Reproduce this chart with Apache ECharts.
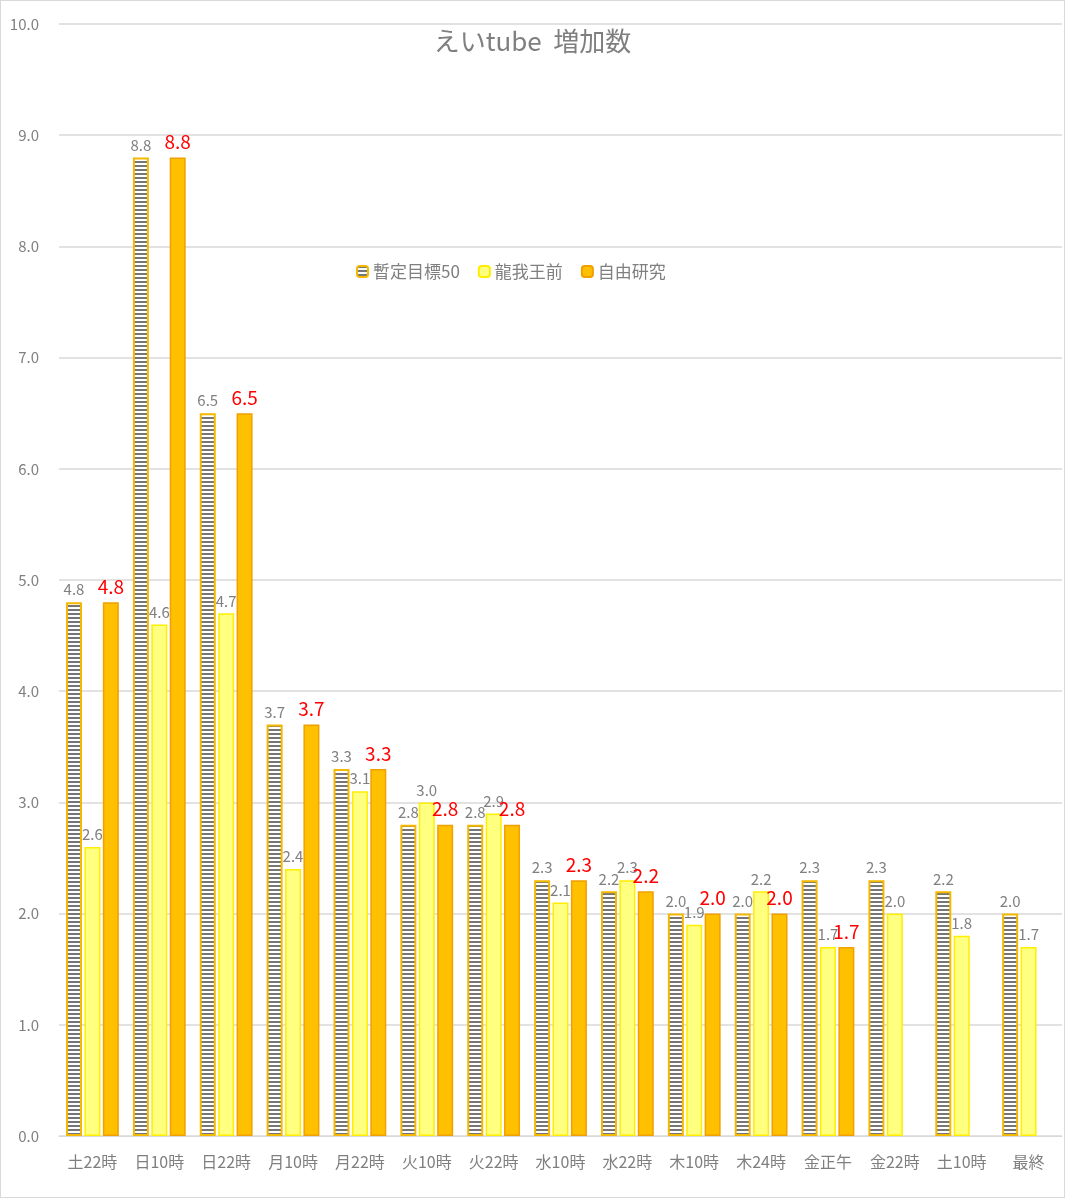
<!DOCTYPE html>
<html><head><meta charset="utf-8">
<script src="https://cdn.jsdelivr.net/npm/echarts@6/dist/echarts.min.js"></script>
<style>html,body{margin:0;padding:0;background:#fff}
#chartmain{width:1063px;height:1196px;border:1px solid #d9d9d9}</style>
</head><body><div id="chartmain"></div>
<script>
var categories = ['土22時','日10時','日22時','月10時','月22時','火10時','火22時','水10時','水22時','木10時','木24時','金正午','金22時','土10時','最終'];
var goal50 = [4.8, 8.8, 6.5, 3.7, 3.3, 2.8, 2.8, 2.3, 2.2, 2.0, 2.0, 2.3, 2.3, 2.2, 2.0];
var ryuga = [2.6, 4.6, 4.7, 2.4, 3.1, 3.0, 2.9, 2.1, 2.3, 1.9, 2.2, 1.7, 2.0, 1.8, 1.7];
var jiyu = [4.8, 8.8, 6.5, 3.7, 3.3, 2.8, 2.8, 2.3, 2.2, 2.0, 2.0, 1.7, null, null, null];

// 横縞パターン
var pat = document.createElement('canvas');
pat.width = 4; pat.height = 4;
var ctx = pat.getContext('2d');
ctx.fillStyle = '#fff'; ctx.fillRect(0, 0, 4, 4);
ctx.fillStyle = '#767676'; ctx.fillRect(0, 0, 4, 2);

var font = '"Noto Sans CJK JP", sans-serif';
var lbl = {show: true, position: 'top', color: '#808080', fontSize: 15, fontFamily: font,
    formatter: function(p){ return p.value.toFixed(1); }};

option = {
    title: {text: 'えいtube  増加数', left: 'center', top: 22,
        textStyle: {color: '#7f7f7f', fontSize: 26, fontWeight: 'normal', fontFamily: font}},
    legend: {data: ['暫定目標50','龍我王前','自由研究'], left: 350, top: 257, itemWidth: 11, itemHeight: 11,
        itemGap: 18, textStyle: {color: '#7f7f7f', fontSize: 17, fontFamily: font}},
    grid: {left: 58, right: 2, top: 23, bottom: 61},
    xAxis: {type: 'category', data: categories,
        axisLine: {lineStyle: {color: '#d9d9d9'}}, axisTick: {show: false},
        axisLabel: {color: '#7f7f7f', fontSize: 16, fontFamily: font, margin: 18}},
    yAxis: {type: 'value', min: 0, max: 10, interval: 1,
        axisLabel: {color: '#7f7f7f', fontSize: 15, fontFamily: font, margin: 20,
            formatter: function(v){ return v.toFixed(1); }},
        splitLine: {lineStyle: {color: '#d9d9d9', width: 1.5}}},
    series: [
        {name: '暫定目標50', type: 'bar', data: goal50, barWidth: 16, barGap: '15%', barCategoryGap: '22%',
            itemStyle: {color: {image: pat, repeat: 'repeat'}, borderColor: '#f5b800', borderWidth: 2},
            label: lbl},
        {name: '龍我王前', type: 'bar', data: ryuga, barWidth: 16,
            itemStyle: {color: '#ffff80', borderColor: '#ffee00', borderWidth: 1.5},
            label: lbl},
        {name: '自由研究', type: 'bar', data: jiyu, barWidth: 16,
            itemStyle: {color: '#ffc000', borderColor: '#f0a000', borderWidth: 1.5},
            label: {show: true, position: 'top', color: '#ff0000', fontSize: 19, fontFamily: font, distance: 6,
                formatter: function(p){ return p.value == null ? '' : p.value.toFixed(1); }}}
    ]
};
var myChart = echarts.init(document.getElementById('chartmain'));
myChart.setOption(option);
</script></body></html>
